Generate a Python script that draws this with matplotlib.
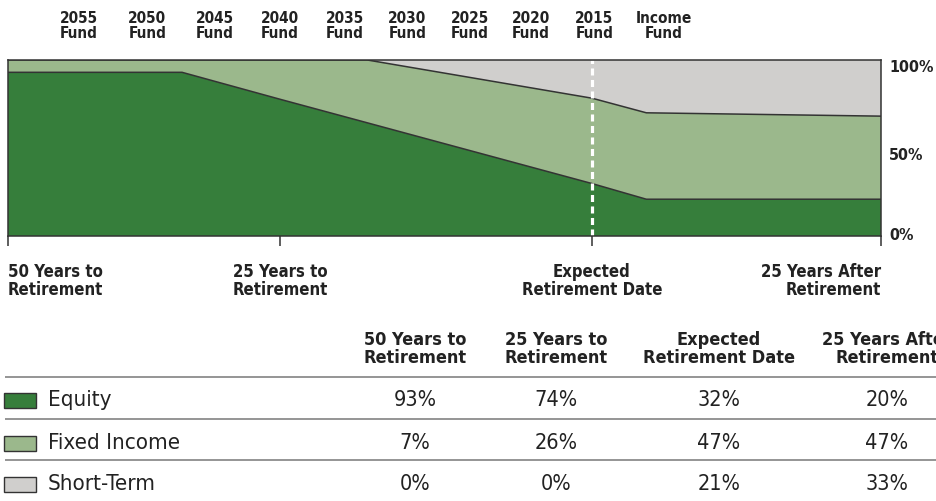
import matplotlib
matplotlib.use("Agg")
import matplotlib.pyplot as plt
from matplotlib import font_manager as fm
from matplotlib.patches import Rectangle
import numpy as np

# ---- data ----
glide_years = [-50, -34, -25, -18, 0, 4.7, 25]          # years relative to retirement
equity_pct  = [93, 93, 77.7, 64.3, 29.8, 20.9, 20.9]
fixed_pct   = [7, 7, 22.3, 35.7, 48.5, 49.1, 47.2]
short_pct   = [0, 0, 0, 0, 21.7, 30.0, 31.9]

fund_names = ["2055", "2050", "2045", "2040", "2035", "2030", "2025", "2020", "2015", "Income"]
fund_years = [-43.5, -37.2, -31.0, -25.0, -19.8, -14.8, -9.8, -4.9, 0.2, 6.2]

tick_years  = [-50, -25, 0, 25]
tick_labels = ["50 Years to\nRetirement", "25 Years to\nRetirement",
               "Expected\nRetirement Date", "25 Years After\nRetirement"]

asset_names = ["Equity", "Fixed Income", "Short-Term"]
table_vals = {
    "Equity":       [93, 74, 32, 20],
    "Fixed Income": [7, 26, 47, 47],
    "Short-Term":   [0, 0, 21, 33],
}

EQ = "#367e3b"; FI = "#9bb88c"; ST = "#d0cfcd"; EDGE = "#333333"; TXT = "#222222"
COLORS = [EQ, FI, ST]

names = {f.name for f in fm.fontManager.ttflist}
NARROW = "Liberation Sans Narrow" if "Liberation Sans Narrow" in names else "DejaVu Sans"
BOLD = dict(family=NARROW, stretch="condensed", weight="bold", color=TXT)
REG = dict(family=NARROW, stretch="condensed", weight="normal", color=TXT)

W, H = 936, 501
fig = plt.figure(figsize=(W / 100, H / 100), dpi=100)
ax = fig.add_axes([8 / W, (H - 236) / H, 873 / W, 176 / H])

# chart is not drawn to scale in time: piecewise mapping years -> horizontal position
yrs_k = [-100, -50, -25, 0, 25, 75]
pos_k = [-544, 0, 272, 584, 873, 1451]
fwd = lambda x: np.interp(x, yrs_k, pos_k)
inv = lambda p: np.interp(p, pos_k, yrs_k)
ax.set_xscale("function", functions=(fwd, inv))

ax.stackplot(glide_years, equity_pct, fixed_pct, short_pct, colors=COLORS, linewidth=0)
eq = np.array(equity_pct); top = eq + np.array(fixed_pct)
ax.plot(glide_years, eq, color=EDGE, lw=1.1)
ax.plot(glide_years, top, color=EDGE, lw=1.1)
ax.axvline(0, color="white", lw=2.3, ls=(0, (2.2, 1.4)))

ax.set_xlim(-50, 25); ax.set_ylim(0, 100)
for s in ax.spines.values():
    s.set_color(EDGE); s.set_linewidth(1.1)

ax.set_xticks(tick_years)
ax.set_xticklabels(tick_labels, fontsize=12, linespacing=1.0, **BOLD)
for lab, ha in zip(ax.get_xticklabels(), ["left", "center", "center", "right"]):
    lab.set_ha(ha)
ax.tick_params(axis="x", direction="out", length=7.5, width=1.1, color=EDGE, pad=12)

ax.yaxis.tick_right()
ax.set_yticks([0, 50, 100])
ax.set_yticklabels(["0%", "50%", "100%"], fontsize=11.5, **BOLD)
ax.tick_params(axis="y", length=0, pad=6)
for lab, va in zip(ax.get_yticklabels(), ["center", "top", "top"]):
    lab.set_va(va)

for n, x in zip(fund_names, fund_years):
    ax.annotate(f"{n}\nFund", xy=(x, 1), xycoords=("data", "axes fraction"),
                xytext=(0, 34), textcoords="offset pixels", ha="center", va="center",
                fontsize=11, linespacing=1.05, **BOLD)

# ---- allocation table (pixel coordinates) ----
tax = fig.add_axes([0, 0, 1, 181 / H])
tax.set_xlim(0, W); tax.set_ylim(H, 320); tax.axis("off")
col_x = [415, 556, 719, 887]
row_y = [400, 443, 484]
for x, lab in zip(col_x, tick_labels):
    tax.text(x, 349, lab, ha="center", va="center", fontsize=13, linespacing=1.0, clip_on=False, **BOLD)
tax.hlines([377.3, 419.3, 460], 5, W, color="#8c8c8c", lw=1.3)
for name, c, y in zip(asset_names, COLORS, row_y):
    tax.add_patch(Rectangle((4, y - 7.5), 32, 15, facecolor=c, edgecolor=EDGE, lw=1))
    tax.text(48, y, name, ha="left", va="center", fontsize=16, **REG)
    for x, v in zip(col_x, table_vals[name]):
        tax.text(x, y, f"{v}%", ha="center", va="center", fontsize=15.5, **REG)

fig.savefig("out.png", dpi=100, facecolor="white")
